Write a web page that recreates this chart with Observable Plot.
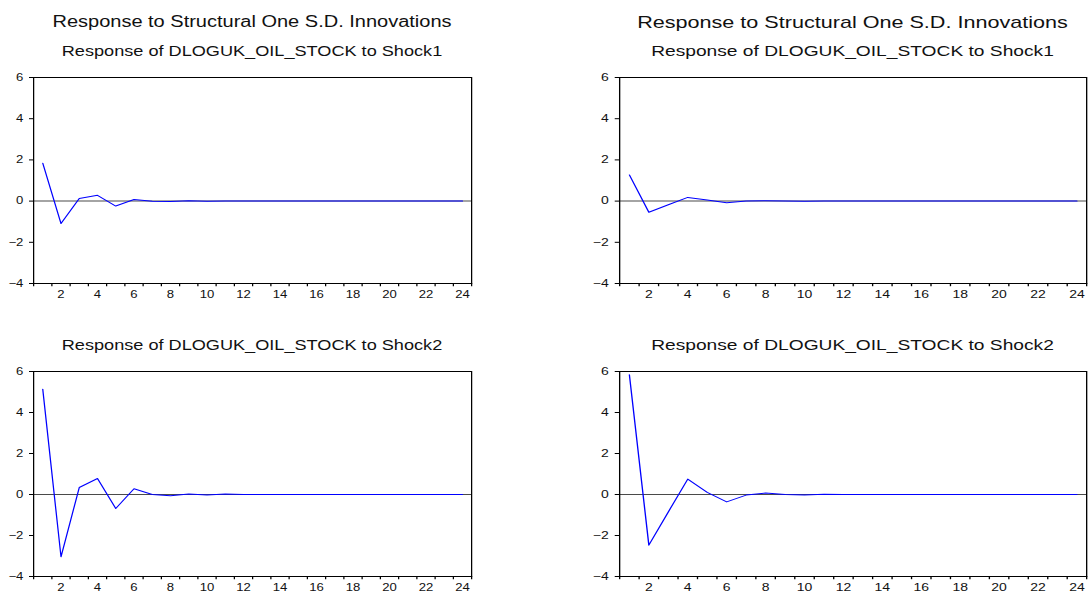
<!DOCTYPE html>
<html>
<head>
<meta charset="utf-8">
<script src="https://cdn.jsdelivr.net/npm/d3@7"></script>
<script src="https://cdn.jsdelivr.net/npm/@observablehq/plot@0.6"></script>
<style>
  html, body { margin: 0; padding: 0; background: white; }
  #root { position: relative; width: 1088px; height: 593px; overflow: hidden; background: white; }
  .col { position: absolute; top: 0; height: 593px; transform-origin: 0 0; }
  .ttl { position: absolute; left: 0; text-align: center; white-space: nowrap; line-height: 1; color: #111;
         font-family: "Liberation Sans", Arial, sans-serif; }
  .plotbox { position: absolute; left: 0; }
  .plotbox svg { overflow: visible; }
</style>
</head>
<body>
<div id="root"></div>
<script>
// ---- data ----
const periods = d3.range(1, 25);
const xLabels = [2, 4, 6, 8, 10, 12, 14, 16, 18, 20, 22, 24];
const yTicks = [-4, -2, 0, 2, 4, 6];
const mainTitle = "Response to Structural One S.D. Innovations";
const subtitleShock1 = "Response of DLOGUK_OIL_STOCK to Shock1";
const subtitleShock2 = "Response of DLOGUK_OIL_STOCK to Shock2";

const leftShock1  = [1.84, -1.09, 0.13, 0.28, -0.24, 0.08, -0.01, -0.02, 0.02, -0.01, 0.00, 0.01, 0.00, 0.00, 0.00, 0.00, 0.00, 0.00, 0.00, 0.00, 0.00, 0.00, 0.00, 0.00];
const rightShock1 = [1.27, -0.54, -0.18, 0.18, 0.05, -0.08, 0.00, 0.02, 0.01, -0.01, 0.00, 0.00, 0.00, 0.00, 0.00, 0.00, 0.00, 0.00, 0.00, 0.00, 0.00, 0.00, 0.00, 0.00];
const leftShock2  = [5.14, -3.04, 0.34, 0.78, -0.68, 0.28, 0.00, -0.06, 0.03, -0.02, 0.02, 0.00, 0.00, 0.00, 0.00, 0.00, 0.00, 0.00, 0.00, 0.00, 0.00, 0.00, 0.00, 0.00];
const rightShock2 = [5.84, -2.47, -0.85, 0.75, 0.10, -0.36, -0.03, 0.07, 0.00, -0.02, 0.01, 0.00, 0.00, 0.00, 0.00, 0.00, 0.00, 0.00, 0.00, 0.00, 0.00, 0.00, 0.00, 0.00];

// period boundaries for the small tick marks
const xBoundaries = d3.range(0.5, 24.51, 1);

// ---- layout ----
const columns = [
  {left: 0,   k: 1.25,  width: 384, mL: 26.4,  mR: 7.2, titleSize: 16,   subSize: 14.5, top: leftShock1,  bottom: leftShock2},
  {left: 580, k: 1.333, width: 381, mL: 29.25, mR: 1.4, titleSize: 16.2, subSize: 14.4, top: rightShock1, bottom: rightShock2}
];

function panel(values, c, height, mTop, mBottom) {
  const data = periods.map((p, i) => ({period: p, value: values[i]}));
  return Plot.plot({
    width: c.width,
    height: height,
    marginLeft: c.mL,
    marginRight: c.mR,
    marginTop: mTop,
    marginBottom: mBottom,
    style: {fontFamily: "'Liberation Sans', Arial, sans-serif", fontSize: "10.5px", color: "#111", background: "white", overflow: "visible"},
    x: {domain: [0.5, 24.5], label: null},
    y: {domain: [-4, 6], label: null},
    marks: [
      Plot.ruleY([0], {stroke: "#4a4a4a", strokeWidth: 1}),
      Plot.line(data, {x: "period", y: "value", stroke: "#0000ff", strokeWidth: 1}),
      Plot.frame({stroke: "black", strokeWidth: 1}),
      Plot.axisX(xBoundaries, {tickSize: 3.2, tickFormat: () => "", stroke: "black", label: null}),
      Plot.axisX(xLabels, {tickSize: 0, tickPadding: 7, label: null}),
      Plot.axisY(yTicks, {tickSize: 3.2, tickPadding: 5, stroke: "black", label: null})
    ]
  });
}

const root = document.getElementById("root");
for (const c of columns) {
  const col = document.createElement("div");
  col.className = "col";
  col.style.left = c.left + "px";
  col.style.width = c.width + "px";
  col.style.transform = `scaleX(${c.k})`;
  root.appendChild(col);

  const center2 = c.mL + (c.width - c.mL - c.mR) / 2;
  function addText(txt, size, baseline) {
    const d = document.createElement("div");
    d.className = "ttl";
    d.textContent = txt;
    d.style.fontSize = size + "px";
    d.style.width = (2 * center2) + "px";
    d.style.top = (baseline - 0.8465 * size) + "px";
    col.appendChild(d);
  }
  addText(mainTitle, c.titleSize, 28);
  addText(subtitleShock1, c.subSize, 56);
  addText(subtitleShock2, c.subSize, 350.5);

  const b1 = document.createElement("div");
  b1.className = "plotbox";
  b1.style.top = "60px";
  b1.appendChild(panel(c.top, c, 240, 17, 17));
  col.appendChild(b1);

  const b2 = document.createElement("div");
  b2.className = "plotbox";
  b2.style.top = "354px";
  b2.appendChild(panel(c.bottom, c, 239, 17, 17));
  col.appendChild(b2);
}
</script>
</body>
</html>
